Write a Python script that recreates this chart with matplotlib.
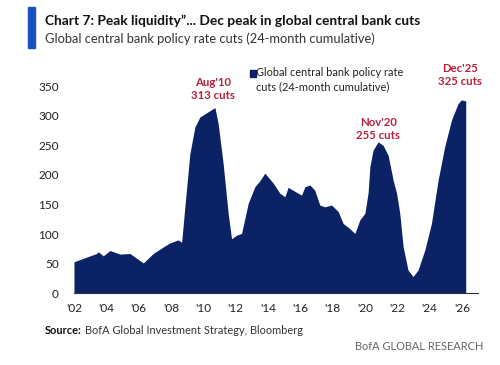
import matplotlib
matplotlib.use("Agg")
import matplotlib.pyplot as plt
import matplotlib.patches as patches

# 24-month cumulative policy rate cuts
years = [2002.0, 2002.79, 2003.40, 2003.50, 2003.81, 2004.23, 2004.84, 2005.46, 2005.77,
         2006.29, 2006.90, 2007.52, 2007.94, 2008.45, 2008.66, 2008.86, 2009.17, 2009.48,
         2009.79, 2010.31, 2010.72, 2010.92, 2011.23, 2011.54, 2011.75, 2012.06, 2012.37,
         2012.78, 2013.19, 2013.50, 2013.81, 2014.33, 2014.74, 2015.05, 2015.25, 2015.56,
         2015.87, 2016.08, 2016.29, 2016.60, 2016.90, 2017.21, 2017.52, 2017.94, 2018.35,
         2018.65, 2019.07, 2019.38, 2019.69, 2020.00, 2020.20, 2020.31, 2020.51, 2020.82,
         2021.13, 2021.44, 2021.75, 2021.96, 2022.16, 2022.37, 2022.67, 2022.98, 2023.29,
         2023.71, 2024.12, 2024.53, 2024.94, 2025.36, 2025.77, 2025.98, 2026.24]
cuts = [53, 61, 67, 70, 63, 72, 66, 67, 61,
        51, 67, 78, 85, 90, 86, 146, 236, 281,
        298, 307, 314, 287, 219, 135, 92, 98, 101,
        152, 180, 190, 203, 186, 169, 163, 179, 174,
        169, 166, 180, 183, 174, 149, 146, 149, 138,
        118, 109, 101, 124, 135, 170, 214, 242, 256,
        250, 233, 191, 169, 135, 78, 39, 28, 39,
        73, 118, 191, 248, 293, 321, 327, 325]

tick_years = list(range(2002, 2027, 2))
tick_labels = ["'%02d" % (y % 100) for y in tick_years]

notes = [(2010.6, "Aug'10\n313 cuts"), (2020.83, "Nov'20\n255 cuts"), (2025.9, "Dec'25\n325 cuts")]
note_y = [345, 278, 369]

plt.rcParams["font.family"] = ["Lato", "DejaVu Sans"]

navy = "#0b2265"
red = "#b8203a"

fig = plt.figure(figsize=(5, 3.65), dpi=100)
ax = fig.add_axes([0.148, 0.197, 0.808, 0.599])

ax.fill_between(years, cuts, 0, color=navy, linewidth=0)
ax.set_xlim(2002, 2027)
ax.set_ylim(0, 370)
ax.set_yticks(range(0, 351, 50))
ax.set_xticks(tick_years)
ax.set_xticklabels(tick_labels)
ax.tick_params(length=0, labelsize=8.5, colors="#222222", pad=7)
ax.tick_params(axis="y", pad=11)
for s in ["top", "right", "left"]:
    ax.spines[s].set_visible(False)
ax.spines["bottom"].set_color("#333333")
ax.spines["bottom"].set_linewidth(0.8)

for (x, txt), y in zip(notes, note_y):
    ax.text(x, y, txt, ha="center", va="center", color=red, fontsize=8.2,
            fontweight="bold", linespacing=1.25)

# legend box
fig.patches.append(patches.Rectangle((250 / 500, 1 - 77 / 365), 6 / 500, 7 / 365,
                                     transform=fig.transFigure, color=navy))
fig.text(256.5 / 500, 1 - 79.5 / 365, "Global central bank policy rate\ncuts (24-month cumulative)",
         ha="left", va="center", fontsize=7.9, color="#222222", linespacing=1.3)

# header
fig.patches.append(patches.Rectangle((28 / 500, 1 - 48 / 365), 7 / 500, 41 / 365,
                                     transform=fig.transFigure, color="#1a4fc4"))
title = fig.text(45 / 500, 1 - 21 / 365,
                 "Chart 7: Peak liquidity\u201d... Dec peak in global central bank cuts",
                 ha="left", va="center", fontsize=11, fontweight="bold", color="#111111")
sub = fig.text(45 / 500, 1 - 39 / 365, "Global central bank policy rate cuts (24-month cumulative)",
               ha="left", va="center", fontsize=10.5, color="#333333")

# footer
src = fig.text(45 / 500, 1 - 331 / 365, "Source:", ha="left", va="center", fontsize=7.9,
               fontweight="bold", color="#111111")
src2 = fig.text(82 / 500, 1 - 331 / 365, "BofA Global Investment Strategy, Bloomberg", ha="left",
                va="center", fontsize=7.9, color="#333333")
fig.text(483 / 500, 1 - 346 / 365, "BofA GLOBAL RESEARCH", ha="right", va="center",
         fontsize=7.9, color="#666666")

# fit header widths to the reference, put source text right after the bold label
r = fig.canvas.get_renderer()
for t, w in [(title, 375), (sub, 333)]:
    t.set_fontsize(t.get_fontsize() * w / t.get_window_extent(r).width)
bb = src.get_window_extent(r)
src2.set_x((bb.x1 + 3) / 500)

fig.savefig("out.png", dpi=100, facecolor="white")
